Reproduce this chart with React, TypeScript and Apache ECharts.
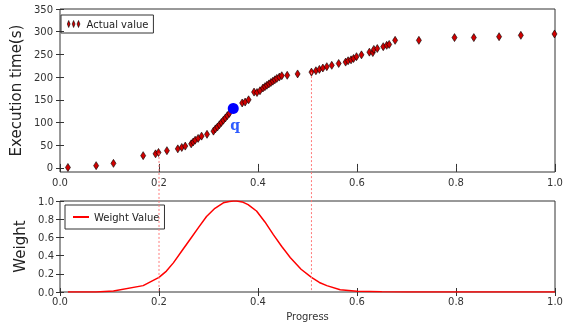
import React, { useEffect, useRef } from "react";
import * as echarts from "echarts";

const progress = [0.016,0.073,0.108,0.168,0.193,0.199,0.216,0.238,0.246,0.253,0.265,0.269,0.273,0.279,0.286,0.297,
  0.31,0.314,0.318,0.322,0.326,0.33,0.334,0.338,0.342,
  0.368,0.374,0.381,0.392,0.398,0.404,0.41,0.414,0.418,0.422,0.426,0.43,0.434,0.438,0.443,0.448,
  0.459,0.48,0.508,0.517,0.524,0.531,0.539,0.549,0.563,0.577,0.582,0.588,0.593,0.599,0.609,
  0.625,0.632,0.634,0.641,0.653,0.66,0.665,0.677,0.725,0.797,0.836,0.887,0.931,0.999];
const execTime = [1,5,10,27,31,34,38,42,45,48,53,57,61,65,70,74,
  81,86,90,95,100,105,110,115,120,
  143,145,150,167,166,170,176,179,182,185,188,191,194,197,200,203,
  204,207,211,214,217,220,223,226,230,233,236,238,241,245,249,
  255,254,261,263,267,270,272,281,281,287,287,289,292,295];

const qPoint = [0.35, 131];

const weightX = [0.016,0.073,0.108,0.168,0.2,0.215,0.229,0.246,0.263,0.28,0.296,0.313,0.33,0.342,0.35,0.357,0.368,0.38,0.397,0.414,0.431,0.448,0.465,0.487,0.508,0.524,0.539,0.566,0.6,0.65,0.7,0.8,0.9,1.0];
const weightY = [0,0,0.01,0.07,0.16,0.23,0.32,0.45,0.58,0.71,0.83,0.92,0.98,0.995,1.0,1.0,0.99,0.96,0.89,0.77,0.63,0.5,0.38,0.25,0.16,0.105,0.07,0.025,0.008,0.002,0,0,0,0];

const markProgress = [0.2, 0.508];
const markTime = [33, 211];

const yTicksTop = [0, 50, 100, 150, 200, 250, 300, 350];

const FONT = "DejaVu Sans";
const FRAME = "#333";

export default function App() {
  const ref = useRef<HTMLDivElement>(null);
  useEffect(() => {
    if (!ref.current) return;
    const chart = echarts.init(ref.current, null, { renderer: "svg" });
    const tick = { show: true, inside: true, length: 4, lineStyle: { color: FRAME, width: 1 } };
    const lbl = { fontSize: 10, color: "#333", fontFamily: FONT };
    const fmt1 = (v: number) => v.toFixed(1);
    const option: any = {
      animation: false,
      textStyle: { fontFamily: FONT },
      grid: [
        { left: 60, top: 9, width: 495, height: 163, show: true, borderColor: FRAME, borderWidth: 1, backgroundColor: "transparent" },
        { left: 60, top: 201, width: 495, height: 91, show: true, borderColor: FRAME, borderWidth: 1, backgroundColor: "transparent" },
      ],
      xAxis: [
        { gridIndex: 0, type: "value", min: 0, max: 1, interval: 0.2, position: "bottom", axisLine: { show: false }, axisTick: tick, splitLine: { show: false }, axisLabel: { ...lbl, margin: 5, formatter: fmt1 } },
        { gridIndex: 0, type: "value", min: 0, max: 1, interval: 0.2, position: "top", axisLine: { show: false }, axisTick: tick, splitLine: { show: false }, axisLabel: { show: false } },
        { gridIndex: 1, type: "value", min: 0, max: 1, interval: 0.2, position: "bottom", axisLine: { show: false }, axisTick: tick, splitLine: { show: false }, axisLabel: { ...lbl, margin: 4, formatter: fmt1 },
          name: "Progress", nameLocation: "middle", nameGap: 19, nameTextStyle: { fontSize: 10, color: "#333", fontFamily: FONT } },
        { gridIndex: 1, type: "value", min: 0, max: 1, interval: 0.2, position: "top", axisLine: { show: false }, axisTick: tick, splitLine: { show: false }, axisLabel: { show: false } },
      ],
      yAxis: [
        { gridIndex: 0, type: "value", min: -9, max: 350, position: "left", axisLine: { show: false },
          axisTick: { ...tick, customValues: yTicksTop }, splitLine: { show: false },
          axisLabel: { ...lbl, margin: 7, customValues: yTicksTop },
          name: "Execution time(s)", nameLocation: "middle", nameGap: 31, nameTextStyle: { fontSize: 15, color: "#222", fontFamily: FONT } },
        { gridIndex: 0, type: "value", min: -9, max: 350, position: "right", axisLine: { show: false },
          axisTick: { ...tick, customValues: yTicksTop }, splitLine: { show: false }, axisLabel: { show: false } },
        { gridIndex: 1, type: "value", min: 0, max: 1, interval: 0.2, position: "left", axisLine: { show: false }, axisTick: tick, splitLine: { show: false },
          axisLabel: { ...lbl, margin: 6, formatter: fmt1 },
          name: "Weight", nameLocation: "middle", nameGap: 28, nameTextStyle: { fontSize: 15, color: "#222", fontFamily: FONT } },
        { gridIndex: 1, type: "value", min: 0, max: 1, interval: 0.2, position: "right", axisLine: { show: false }, axisTick: tick, splitLine: { show: false }, axisLabel: { show: false } },
      ],
      legend: [
        { data: ["Actual value"], left: 61, top: 15, orient: "vertical", borderColor: FRAME, borderWidth: 1, borderRadius: 0, padding: [4, 5, 4, 6],
          itemWidth: 16, itemHeight: 7, itemGap: 4, textStyle: { fontSize: 10, color: "#222", fontFamily: FONT },
          itemStyle: { color: "#d00000", borderColor: "#000", borderWidth: 0.6 },
          icon: "path://M2,0L4,5L2,10L0,5Z M9,0L11,5L9,10L7,5Z M16,0L18,5L16,10L14,5Z" },
        { data: ["Weight Value"], left: 65, top: 205, orient: "vertical", borderColor: FRAME, borderWidth: 1, borderRadius: 0, padding: [7, 5, 7, 8],
          itemWidth: 16, itemHeight: 2, itemGap: 4, textStyle: { fontSize: 10, color: "#222", fontFamily: FONT },
          icon: "rect", itemStyle: { color: "#ff0000" } },
      ],
      series: [
        { name: "Actual value", type: "scatter", xAxisIndex: 0, yAxisIndex: 0,
          data: progress.map((p, i) => [p, execTime[i]]),
          symbol: "path://M0,-4L2.5,0L0,4L-2.5,0Z", symbolSize: [5, 8],
          itemStyle: { color: "#d00000", borderColor: "#000", borderWidth: 0.6, opacity: 1 } },
        { name: "q", type: "scatter", xAxisIndex: 0, yAxisIndex: 0, data: [qPoint], symbol: "circle", symbolSize: 11,
          itemStyle: { color: "#0000ff", opacity: 1 }, z: 5,
          label: { show: true, formatter: "q", position: "bottom", distance: 4, offset: [2, 0], color: "#2f5cff", fontFamily: "DejaVu Serif", fontWeight: "bold", fontSize: 14 } },
        { name: "Weight Value", type: "line", xAxisIndex: 2, yAxisIndex: 2, data: weightX.map((x, i) => [x, weightY[i]]),
          symbol: "none", smooth: false, lineStyle: { color: "#ff0000", width: 1.5 }, itemStyle: { color: "#ff0000" } },
      ],
    };
    chart.setOption(option);
    const lines = markProgress.map((x, i) => {
      const a = chart.convertToPixel({ xAxisIndex: 0, yAxisIndex: 0 } as any, [x, markTime[i]]) as number[];
      const b = chart.convertToPixel({ xAxisIndex: 2, yAxisIndex: 2 } as any, [x, 0]) as number[];
      return { type: "line", z: 10, shape: { x1: a[0], y1: a[1], x2: b[0], y2: b[1] },
        style: { stroke: "#ff7a7a", lineWidth: 1, lineDash: [2, 2] } };
    });
    chart.setOption({ graphic: lines });
    return () => chart.dispose();
  }, []);
  return <div ref={ref} style={{ position: "fixed", left: 0, top: 0, width: 574, height: 326 }} />;
}
